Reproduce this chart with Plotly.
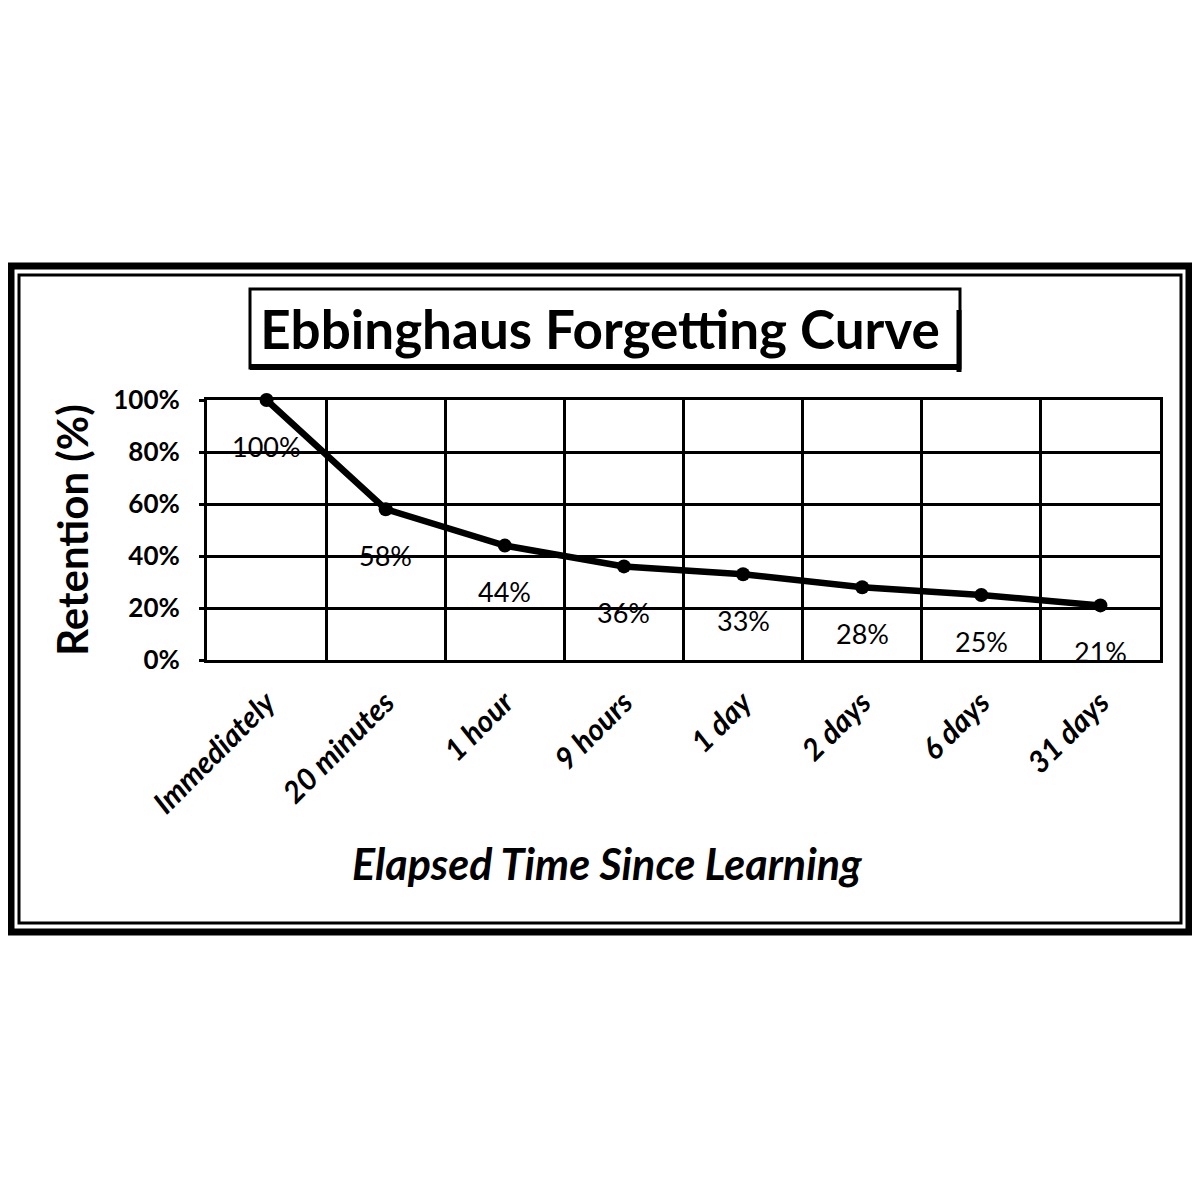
import plotly.graph_objects as go

# ---- data ----
categories = ["Immediately", "20 minutes", "1 hour", "9 hours", "1 day", "2 days", "6 days", "31 days"]
retention = [100, 58, 44, 36, 33, 28, 25, 21]
y_ticks = [0, 20, 40, 60, 80, 100]
y_tick_labels = ["0%", "20%", "40%", "60%", "80%", "100%"]

title_text = "Ebbinghaus Forgetting Curve"
y_title = "Retention (%)"
x_title = "Elapsed Time Since Learning"

FONT = "Lato, 'Open Sans', sans-serif"
OFF = 8  # page body margin
W, H = 1200 - 2 * OFF, 1200 - 2 * OFF
PLOT_L, PLOT_R, PLOT_T, PLOT_B = 207, 1160, 400, 660  # on-screen plot area
L, T = PLOT_L - OFF, PLOT_T - OFF
R = W - (PLOT_R - OFF)
B = H - (PLOT_B - OFF)
PW, PH = PLOT_R - PLOT_L, PLOT_B - PLOT_T


def px(x):
    return (x - PLOT_L) / PW


def py(y):
    return (PLOT_B - y) / PH


fig = go.Figure()
fig.add_trace(go.Scatter(
    x=categories, y=retention, mode="lines+markers",
    line=dict(color="black", width=6.5),
    marker=dict(color="black", size=14),
    cliponaxis=False, showlegend=False, hoverinfo="x+y",
))

annotations = []
for c, v in zip(categories, retention):
    annotations.append(dict(
        x=c, y=v, xref="x", yref="y", text=f"{v}%", showarrow=False,
        yshift=-46, font=dict(family=FONT, size=27, color="black"),
    ))

annotations.append(dict(
    x=px(607), y=py(863), xref="paper", yref="paper", text=f"<i><b>{x_title}</b></i>",
    showarrow=False, font=dict(family=FONT, size=43, color="black"),
    xanchor="center", yanchor="middle",
))

shapes = [
    # outer double frame
    dict(type="rect", xref="paper", yref="paper", x0=px(11), x1=px(1189), y0=py(932), y1=py(266),
         line=dict(color="black", width=7), layer="above"),
    dict(type="rect", xref="paper", yref="paper", x0=px(19), x1=px(1181), y0=py(923), y1=py(275),
         line=dict(color="black", width=3), layer="above"),
    # title box
    dict(type="rect", xref="paper", yref="paper", x0=px(250), x1=px(960), y0=py(368), y1=py(289),
         line=dict(color="black", width=3), layer="above"),
    dict(type="line", xref="paper", yref="paper", x0=px(250), x1=px(960), y0=py(367), y1=py(367),
         line=dict(color="black", width=6), layer="above"),
    dict(type="line", xref="paper", yref="paper", x0=px(959), x1=px(959), y0=py(372), y1=py(310),
         line=dict(color="black", width=5), layer="above"),
]

fig.update_layout(
    width=W, height=H,
    margin=dict(l=L, r=R, t=T, b=B, autoexpand=False),
    paper_bgcolor="white", plot_bgcolor="white",
    title=dict(text=f"<b>{title_text}</b>", x=(600 - OFF) / W, xanchor="center",
               y=1 - (330 - OFF) / H, yanchor="middle", yref="container",
               font=dict(family=FONT, size=53, color="black")),
    annotations=annotations,
    shapes=shapes,
    showlegend=False,
)

fig.update_xaxes(
    type="category", range=[-0.5, len(categories) - 0.5],
    tickson="boundaries", showgrid=True, gridcolor="black", gridwidth=2.5,
    showline=True, linecolor="black", linewidth=3, mirror=True,
    ticks="", tickangle=-45, ticklabelstandoff=10,
    tickfont=dict(family=FONT, size=30, color="black", weight="bold", style="italic"),
    zeroline=False, automargin=False,
)
fig.update_yaxes(
    range=[0, 100], tickvals=y_ticks, ticktext=y_tick_labels,
    showgrid=True, gridcolor="black", gridwidth=2.5,
    showline=True, linecolor="black", linewidth=3, mirror=True,
    ticks="outside", ticklen=5, tickwidth=2.5, tickcolor="black",
    tickfont=dict(family=FONT, size=26, color="black", weight="bold"),
    ticklabelstandoff=14,
    title=dict(text=f"<b>{y_title}</b>", standoff=12, font=dict(family=FONT, size=42, color="black")),
    zeroline=False, automargin=False,
)

fig.write_html("out.html")
